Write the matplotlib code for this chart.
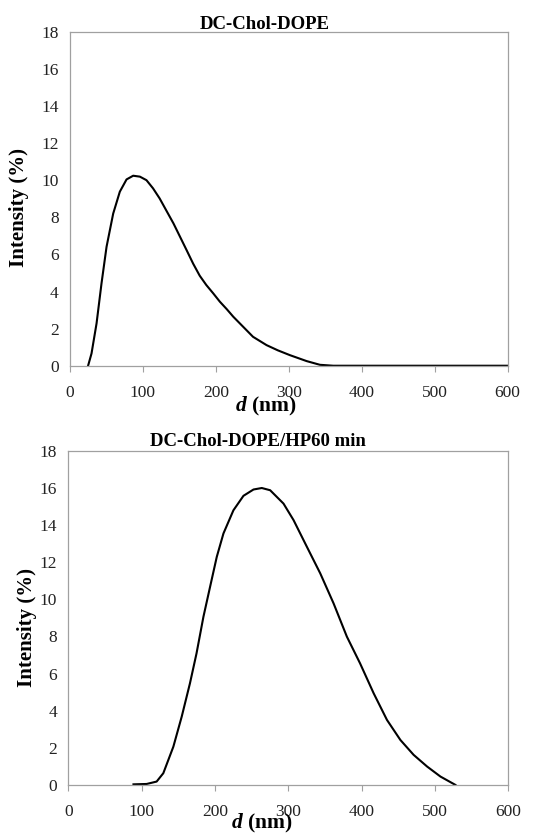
import numpy as np
import matplotlib
matplotlib.use("Agg")
import matplotlib.pyplot as plt

plt.rcParams['font.family'] = 'Liberation Serif'
plt.rcParams['mathtext.fontset'] = 'custom'
plt.rcParams['mathtext.rm'] = 'Liberation Serif'
plt.rcParams['mathtext.bf'] = 'Liberation Serif:bold'
plt.rcParams['mathtext.bfit'] = 'Liberation Serif:italic:bold'

# DC-Chol-DOPE
d1 = [25, 29.7, 36.6, 43.4, 50.3, 59.4, 68.5, 77.7, 86.8, 96, 105, 114, 123,
      132, 142, 151, 160, 169, 178, 187, 196.5, 205.6, 215, 224, 238, 251, 269.6,
      285, 301.6, 324.5, 342.7, 361, 400, 500, 600]
i1 = [0, 0.66, 2.28, 4.44, 6.41, 8.2, 9.38, 10.04, 10.24, 10.19, 10.0, 9.56, 9.02,
      8.38, 7.67, 6.95, 6.23, 5.5, 4.85, 4.35, 3.9, 3.45, 3.05, 2.64, 2.08, 1.56, 1.11,
      0.83, 0.57, 0.25, 0.05, 0, 0, 0, 0]

# DC-Chol-DOPE/HP 60 min
d2 = [89, 107, 120.6, 129.7, 143.4, 154.8, 166, 175, 184.4, 193.5, 202.6, 211.7,
      225.3, 239, 252.7, 264, 275.4, 293.6, 307.3, 325.5, 343.7, 361.9, 380, 398,
      416.5, 434.7, 453, 471, 489.4, 507.6, 528]
i2 = [0.03, 0.05, 0.18, 0.63, 2.06, 3.68, 5.47, 7.09, 9.06, 10.68, 12.29, 13.55,
      14.8, 15.58, 15.92, 16.0, 15.88, 15.16, 14.27, 12.83, 11.4, 9.78, 7.99, 6.55,
      4.94, 3.5, 2.42, 1.62, 0.99, 0.45, 0]

fig = plt.figure(figsize=(5.5, 8.35), dpi=100)
ax1 = fig.add_axes([0.127, 0.562, 0.796, 0.400])
ax2 = fig.add_axes([0.124, 0.060, 0.800, 0.400])

for ax, d, i in [(ax1, d1, i1), (ax2, d2, i2)]:
    ax.plot(d, i, color='black', lw=1.5, solid_joinstyle='round')
    ax.set_xlim(0, 600)
    ax.set_ylim(0, 18)
    ax.set_xticks(np.arange(0, 601, 100))
    ax.set_yticks(np.arange(0, 19, 2))
    for s in ax.spines.values():
        s.set_color('#a0a0a0')
        s.set_linewidth(0.9)
    ax.tick_params(axis='x', length=4, color='#a0a0a0', labelsize=12.5, pad=10, labelcolor='#222222')
    ax.tick_params(axis='y', length=0, labelsize=12.5, pad=8, labelcolor='#222222')

fig.text(0.482, 0.971, 'DC-Chol-DOPE', ha='center', va='center', fontsize=13.5, fontweight='bold')
fig.text(0.469, 0.471, 'DC-Chol-DOPE/HP60 min', ha='center', va='center', fontsize=13.5, fontweight='bold')
fig.text(0.035, 0.752, 'Intensity (%)', rotation=90, ha='center', va='center', fontsize=15, fontweight='bold')
fig.text(0.049, 0.249, 'Intensity (%)', rotation=90, ha='center', va='center', fontsize=15, fontweight='bold')
fig.text(0.4836, 0.513, r'$\mathbfit{d}$ (nm)', ha='center', va='center', fontsize=15.5, fontweight='bold')
fig.text(0.476, 0.0134, r'$\mathbfit{d}$ (nm)', ha='center', va='center', fontsize=15.5, fontweight='bold')

fig.savefig('out.png', dpi=100)
